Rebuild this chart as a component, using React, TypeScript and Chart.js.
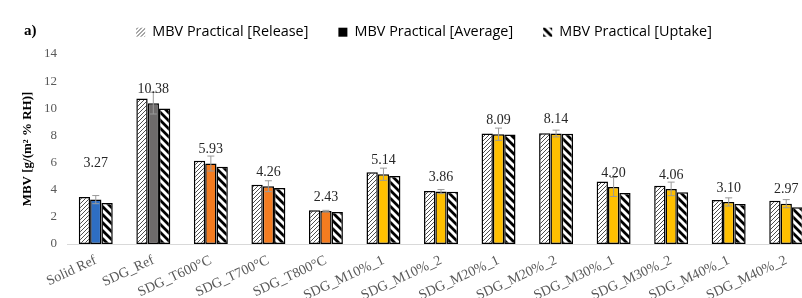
import React, { useEffect, useRef } from "react";
import { Chart, registerables } from "chart.js";
Chart.register(...registerables);

const categories = [
  "Solid Ref", "SDG_Ref", "SDG_T600°C", "SDG_T700°C", "SDG_T800°C",
  "SDG_M10%_1", "SDG_M10%_2", "SDG_M20%_1", "SDG_M20%_2",
  "SDG_M30%_1", "SDG_M30%_2", "SDG_M40%_1", "SDG_M40%_2",
];
const releaseValues = [3.47, 10.73, 6.13, 4.37, 2.49, 5.28, 3.91, 8.14, 8.16, 4.6, 4.3, 3.25, 3.18];
const averageValues = [3.27, 10.38, 5.93, 4.26, 2.43, 5.14, 3.86, 8.09, 8.14, 4.2, 4.06, 3.1, 2.97];
const uptakeValues = [3.03, 9.99, 5.69, 4.13, 2.35, 5.01, 3.85, 8.06, 8.12, 3.76, 3.81, 2.95, 2.71];
const averageErrors = [0.3, 0.8, 0.55, 0.4, 0.05, 0.45, 0.15, 0.45, 0.25, 0.7, 0.5, 0.3, 0.3];
const averageLabels = ["3.27", "10.38", "5.93", "4.26", "2.43", "5.14", "3.86", "8.09", "8.14", "4.20", "4.06", "3.10", "2.97"];
const averageColors = [
  "#2e6ec2", "#6e6b6b", "#f47c20", "#f47c20", "#f47c20",
  "#ffc000", "#ffc000", "#ffc000", "#ffc000", "#ffc000", "#ffc000", "#ffc000", "#ffc000",
];
const seriesNames = ["MBV Practical [Release]", "MBV Practical [Average]", "MBV Practical [Uptake]"];
const yMin = 0;
const yMax = 14;
const yStep = 2;
const yTitle = "MBV [g/(m² % RH)]";
const panelLabel = "a)";

function makeReleasePattern(): CanvasPattern | string {
  const c = document.createElement("canvas");
  c.width = 4; c.height = 4;
  const g = c.getContext("2d");
  if (!g) return "#fff";
  g.fillStyle = "#ffffff";
  g.fillRect(0, 0, 4, 4);
  g.strokeStyle = "#3a3a3a";
  g.lineWidth = 0.9;
  g.beginPath();
  g.moveTo(-1, 5); g.lineTo(5, -1);
  g.moveTo(-1, 1); g.lineTo(1, -1);
  g.moveTo(3, 5); g.lineTo(5, 3);
  g.stroke();
  return g.createPattern(c, "repeat") || "#fff";
}

function makeUptakePattern(): CanvasPattern | string {
  const s = 8;
  const c = document.createElement("canvas");
  c.width = s; c.height = s;
  const g = c.getContext("2d");
  if (!g) return "#fff";
  g.fillStyle = "#ffffff";
  g.fillRect(0, 0, s, s);
  g.strokeStyle = "#000000";
  g.lineWidth = 2.8;
  g.beginPath();
  g.moveTo(-4, -4); g.lineTo(s + 4, s + 4);
  g.moveTo(-4, s - 4); g.lineTo(4, s + 4);
  g.moveTo(s - 4, -4); g.lineTo(s + 4, 4);
  g.stroke();
  return g.createPattern(c, "repeat") || "#fff";
}

const errorBarPlugin = {
  id: "errorBars",
  afterDatasetsDraw(chart: any) {
    const meta = chart.getDatasetMeta(1);
    const y = chart.scales.y;
    const ctx = chart.ctx;
    ctx.save();
    ctx.strokeStyle = "#9a9a9a";
    ctx.lineWidth = 1;
    meta.data.forEach((el: any, i: number) => {
      const top = y.getPixelForValue(averageValues[i] + averageErrors[i]);
      const bot = y.getPixelForValue(averageValues[i] - averageErrors[i]);
      const x = el.x;
      ctx.beginPath();
      ctx.moveTo(x, top); ctx.lineTo(x, bot);
      ctx.moveTo(x - 3.5, top); ctx.lineTo(x + 3.5, top);
      ctx.moveTo(x - 3.5, bot); ctx.lineTo(x + 3.5, bot);
      ctx.stroke();
    });
    ctx.restore();
  },
};

const labelLift: Record<number, number> = { 0: 36 };
const valueLabelPlugin = {
  id: "valueLabels",
  afterDraw(chart: any) {
    const meta = chart.getDatasetMeta(1);
    const y = chart.scales.y;
    const ctx = chart.ctx;
    ctx.save();
    ctx.font = "14px 'Liberation Serif', 'Times New Roman', serif";
    ctx.fillStyle = "#262626";
    ctx.textAlign = "center";
    ctx.textBaseline = "middle";
    meta.data.forEach((el: any, i: number) => {
      const top = y.getPixelForValue(averageValues[i]);
      const lift = labelLift[i] !== undefined ? labelLift[i] : 14;
      ctx.fillText(averageLabels[i], el.x, top - lift);
    });
    ctx.restore();
  },
};

const legendShiftPlugin = {
  id: "legendShift",
  beforeUpdate(chart: any) {
    const lg = chart.legend;
    if (lg && !lg.__patched) {
      const origFit = lg.fit.bind(lg);
      lg.fit = function () {
        origFit();
        this.height = 40;
      };
      const origDraw = lg._draw.bind(lg);
      lg._draw = function () {
        const ctx = this.ctx;
        ctx.save();
        ctx.translate(16.5, -19);
        origDraw();
        ctx.restore();
      };
      lg.__patched = true;
    }
  },
};

export default function App() {
  const ref = useRef<HTMLCanvasElement | null>(null);
  useEffect(() => {
    if (!ref.current) return;
    const release = makeReleasePattern();
    const uptake = makeUptakePattern();
    const serif = "'Liberation Serif', 'Times New Roman', serif";
    const chart = new Chart(ref.current, {
      type: "bar",
      data: {
        labels: categories,
        datasets: [
          { label: seriesNames[0], data: releaseValues, backgroundColor: release as any, borderColor: "#000", borderWidth: 1.5, borderSkipped: false } as any,
          { label: seriesNames[1], data: averageValues, backgroundColor: averageColors, borderColor: "#000", borderWidth: 1.5, borderSkipped: false } as any,
          { label: seriesNames[2], data: uptakeValues, backgroundColor: uptake as any, borderColor: "#000", borderWidth: 1.5, borderSkipped: false } as any,
        ],
      },
      options: {
        animation: false,
        responsive: false,
        maintainAspectRatio: false,
        datasets: { bar: { categoryPercentage: 0.59, barPercentage: 1.0 } } as any,
        layout: { padding: { left: 0, right: 15, top: 14, bottom: 0 } },
        plugins: {
          tooltip: { enabled: false },
          legend: {
            position: "top",
            labels: {
              boxWidth: 9,
              boxHeight: 9,
              padding: 30,
              color: "#262626",
              font: { family: "'Open Sans', sans-serif", size: 14.4 },
              generateLabels: () => [
                { text: seriesNames[0], fillStyle: release as any, strokeStyle: "rgba(0,0,0,0)", lineWidth: 0, datasetIndex: 0, hidden: false },
                { text: seriesNames[1], fillStyle: "#000", strokeStyle: "#000", lineWidth: 0, datasetIndex: 1, hidden: false },
                { text: seriesNames[2], fillStyle: uptake as any, strokeStyle: "rgba(0,0,0,0)", lineWidth: 0, datasetIndex: 2, hidden: false },
              ] as any,
            },
          },
        },
        scales: {
          x: {
            grid: { display: false, drawTicks: false },
            border: { display: true, color: "#d9d9d9", width: 1 },
            ticks: {
              autoSkip: false,
              minRotation: 25,
              maxRotation: 25,
              padding: 8,
              color: "#595959",
              font: { family: serif, size: 14 },
            },
            afterFit: (s: any) => { s.height = 54; },
          },
          y: {
            min: yMin,
            max: yMax,
            grid: { display: false, drawTicks: false },
            border: { display: false },
            ticks: {
              stepSize: yStep,
              padding: 10,
              color: "#595959",
              font: { family: serif, size: 13 },
            },
            title: {
              display: true,
              text: yTitle,
              color: "#000",
              font: { family: serif, size: 13, weight: "bold" },
              padding: { top: 20, bottom: 0 },
            },
            afterFit: (s: any) => { s.width = 67; },
          },
        },
      },
      plugins: [errorBarPlugin, valueLabelPlugin, legendShiftPlugin],
    });
    return () => chart.destroy();
  }, []);
  return (
    <div style={{ position: "fixed", left: 0, top: 0, width: 830, height: 298, background: "#fff", overflow: "hidden" }}>
      <div style={{ position: "absolute", left: 24, top: 22, fontFamily: "'Liberation Serif', serif", fontWeight: "bold", fontSize: 15, color: "#000" }}>{panelLabel}</div>
      <canvas ref={ref} width={830} height={298} style={{ display: "block", width: 830, height: 298 }} />
    </div>
  );
}
